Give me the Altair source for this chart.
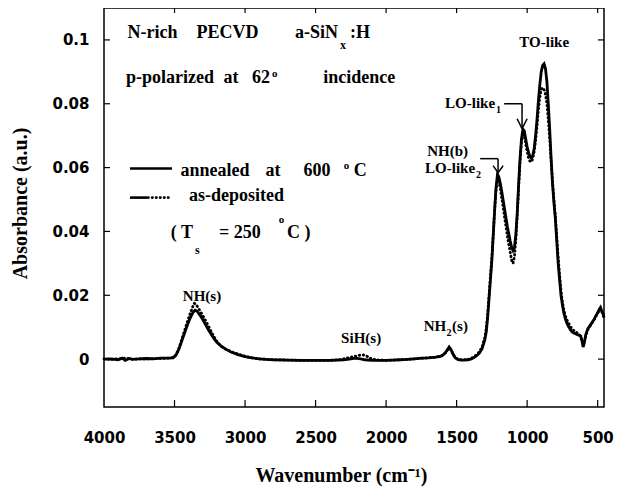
import altair as alt
import pandas as pd

# ---------------- data ----------------
ann_wn = [4000, 3950, 3900, 3870, 3850, 3820, 3800, 3750, 3700, 3650, 3600, 3550, 3510, 3490, 3470, 3450,
          3430, 3410, 3390, 3370, 3355, 3340, 3320, 3300, 3280, 3260, 3240, 3220, 3200, 3170, 3140, 3100,
          3050, 3000, 2950, 2900, 2850, 2800, 2700, 2600, 2500, 2450, 2400, 2350, 2300, 2250, 2220, 2180,
          2150, 2100, 2050, 2000, 1950, 1900, 1850, 1800, 1750, 1700, 1650, 1620, 1600, 1580, 1565, 1553,
          1540, 1525, 1510, 1490, 1470, 1450, 1420, 1400, 1380, 1360, 1340, 1320, 1300, 1290, 1280, 1270,
          1260, 1250, 1240, 1230, 1220, 1210, 1200, 1190, 1180, 1160, 1140, 1120, 1110, 1100, 1090, 1080,
          1070, 1060, 1050, 1040, 1030, 1020, 1010, 1000, 990, 980, 970, 960, 950, 940, 930, 920, 910, 900,
          890, 880, 870, 860, 850, 840, 830, 820, 810, 800, 790, 780, 770, 760, 750, 740, 730, 720, 710,
          700, 690, 680, 670, 660, 650, 640, 630, 620, 610, 603, 595, 585, 570, 555, 540, 525, 510, 500,
          490, 480, 470, 460, 455]
ann_abs = [0.0000, 0.0001, -0.0002, 0.0003, -0.0004, 0.0002, -0.0001, 0.0001, 0.0002, 0.0001, 0.0003, 0.0003,
           0.0004, 0.0012, 0.0030, 0.0055, 0.0080, 0.0105, 0.0128, 0.0146, 0.0153, 0.0150, 0.0138, 0.0124,
           0.0108, 0.0092, 0.0078, 0.0064, 0.0053, 0.0041, 0.0032, 0.0022, 0.0014, 0.0008, 0.0004, 0.0001,
           -0.0001, -0.0002, -0.0003, -0.0004, -0.0004, -0.0004, -0.0004, -0.0003, -0.0002, 0.0001, 0.0003,
           0.0001, -0.0002, -0.0004, -0.0004, -0.0004, -0.0003, -0.0002, -0.0001, 0.0001, 0.0003, 0.0004,
           0.0006, 0.0008, 0.0012, 0.0020, 0.0030, 0.0038, 0.0030, 0.0015, 0.0004, -0.0002, -0.0003, -0.0003,
           -0.0002, 0.0000, 0.0004, 0.0010, 0.0018, 0.0032, 0.0060, 0.0085, 0.0130, 0.0190, 0.0250, 0.0310,
           0.0390, 0.0470, 0.0540, 0.0580, 0.0570, 0.0550, 0.0525, 0.0470, 0.0415, 0.0370, 0.0350, 0.0340,
           0.0350, 0.0390, 0.0460, 0.0550, 0.0630, 0.0690, 0.0720, 0.0715, 0.0690, 0.0665, 0.0648, 0.0635,
           0.0630, 0.0638, 0.0660, 0.0700, 0.0750, 0.0810, 0.0860, 0.0900, 0.0920, 0.0925, 0.0910, 0.0870,
           0.0800, 0.0720, 0.0630, 0.0550, 0.0490, 0.0440, 0.0370, 0.0300, 0.0250, 0.0200, 0.0170, 0.0145,
           0.0128, 0.0115, 0.0105, 0.0097, 0.0090, 0.0085, 0.0082, 0.0080, 0.0078, 0.0076, 0.0075, 0.0072,
           0.0055, 0.0038, 0.0050, 0.0075, 0.0095, 0.0105, 0.0115, 0.0125, 0.0138, 0.0145, 0.0155, 0.0162,
           0.0150, 0.0140, 0.0130]

dep_wn = [4000, 3950, 3900, 3850, 3800, 3700, 3600, 3550, 3510, 3490, 3470, 3450, 3430, 3410, 3390, 3370,
          3360, 3345, 3320, 3300, 3280, 3260, 3240, 3220, 3200, 3170, 3140, 3100, 3050, 3000, 2950, 2900,
          2800, 2700, 2600, 2500, 2400, 2330, 2280, 2230, 2190, 2160, 2130, 2100, 2050, 2000, 1900, 1800,
          1700, 1650, 1600, 1575, 1553, 1535, 1515, 1490, 1450, 1420, 1400, 1380, 1360, 1340, 1320, 1300,
          1290, 1280, 1270, 1260, 1250, 1240, 1230, 1220, 1210, 1200, 1190, 1180, 1160, 1140, 1120, 1110,
          1100, 1090, 1080, 1070, 1060, 1050, 1040, 1030, 1020, 1010, 1000, 990, 980, 970, 960, 950, 940,
          930, 920, 910, 900, 890, 880, 870, 860, 850, 840, 830, 820, 810, 800, 790, 780, 770, 760, 750,
          740, 730, 720, 710, 700, 690, 680, 670, 660, 650, 640, 630, 620, 610, 603, 595, 585, 570, 555,
          540, 525, 510, 500, 490, 480, 470, 460, 455]
dep_abs = [0.0001, -0.0001, 0.0001, 0.0003, 0.0000, 0.0001, 0.0002, 0.0003, 0.0005, 0.0014, 0.0033, 0.0060,
           0.0088, 0.0115, 0.0142, 0.0165, 0.0175, 0.0170, 0.0152, 0.0137, 0.0121, 0.0104, 0.0086, 0.0070,
           0.0056, 0.0040, 0.0032, 0.0024, 0.0016, 0.0009, 0.0004, 0.0001, -0.0002, -0.0003, -0.0004,
           -0.0004, -0.0004, -0.0002, 0.0003, 0.0008, 0.0012, 0.0013, 0.0008, 0.0000, -0.0003, -0.0004,
           -0.0002, 0.0001, 0.0004, 0.0006, 0.0011, 0.0022, 0.0035, 0.0025, 0.0008, -0.0001, -0.0002,
           -0.0001, 0.0002, 0.0006, 0.0013, 0.0022, 0.0038, 0.0068, 0.0095, 0.0140, 0.0200, 0.0260, 0.0320,
           0.0395, 0.0470, 0.0535, 0.0560, 0.0555, 0.0535, 0.0505, 0.0445, 0.0385, 0.0335, 0.0310, 0.0300,
           0.0320, 0.0375, 0.0450, 0.0540, 0.0620, 0.0680, 0.0710, 0.0700, 0.0675, 0.0650, 0.0630, 0.0620,
           0.0618, 0.0628, 0.0650, 0.0685, 0.0730, 0.0780, 0.0820, 0.0845, 0.0850, 0.0845, 0.0830, 0.0800,
           0.0750, 0.0690, 0.0620, 0.0555, 0.0500, 0.0450, 0.0385, 0.0320, 0.0265, 0.0215, 0.0180, 0.0155,
           0.0138, 0.0125, 0.0116, 0.0108, 0.0100, 0.0094, 0.0090, 0.0087, 0.0084, 0.0080, 0.0076, 0.0070,
           0.0055, 0.0042, 0.0052, 0.0072, 0.0092, 0.0103, 0.0113, 0.0123, 0.0136, 0.0143, 0.0152, 0.0158,
           0.0148, 0.0138, 0.0128]

x_tick_values = [4000, 3500, 3000, 2500, 2000, 1500, 1000, 500]
y_tick_values = [0, 0.02, 0.04, 0.06, 0.08, 0.1]

# annotation texts (serif, bold): text, anchor wavenumber, anchor absorbance, font size, alignment
txt_text = ["N-rich", "PECVD", "a-SiN", "x", ":H",
            "p-polarized", "at", "62", "o", "incidence",
            "annealed", "at", "600", "o", "C",
            "as-deposited",
            "( T", "s", "= 250", "o", "C )",
            "TO-like", "LO-like", "1", "NH(b)", "LO-like", "2",
            "NH(s)", "SiH(s)", "NH", "2", "(s)"]
txt_wn = [3656, 3124, 2340, 2326, 2255,
          3532, 3099, 2823, 2809, 2191,
          3213, 2801, 2489, 2280, 2184,
          3060,
          3369, 3355, 3036, 2741, 2620,
          879, 1227, 1220, 1564, 1369, 1362,
          3305, 2177, 1574, 1571, 1532]
txt_abs = [0.1006, 0.1006, 0.1006, 0.0972, 0.1006,
           0.0866, 0.0866, 0.0866, 0.0884, 0.0866,
           0.0575, 0.0575, 0.0575, 0.0597, 0.0575,
           0.0494,
           0.0381, 0.0328, 0.0381, 0.0425, 0.0381,
           0.0978, 0.0788, 0.0772, 0.0635, 0.0582, 0.0567,
           0.0181, 0.0050, 0.00875, 0.0072, 0.00875]
txt_size = [18, 18, 18, 12, 18,
            18, 18, 18, 11, 18,
            18, 18, 18, 11, 18,
            18,
            18, 12, 18, 11, 18,
            15, 15, 10, 15, 15, 10,
            15, 15, 15, 10, 15]
txt_align = ["center", "center", "right", "left", "left",
             "center", "center", "right", "left", "center",
             "center", "center", "center", "center", "center",
             "center",
             "right", "left", "center", "center", "center",
             "center", "right", "left", "center", "right", "left",
             "center", "center", "right", "left", "left"]

# arrows next to the peak labels (segments)
arr_wn = [1163, 1036, 1071, 1000, 1333, 1206, 1241, 1170]
arr_wn2 = [1036, 1036, 1036, 1036, 1206, 1206, 1206, 1206]
arr_a = [0.0800, 0.0800, 0.0753, 0.0753, 0.0628, 0.0628, 0.0606, 0.0606]
arr_a2 = [0.0800, 0.0722, 0.0722, 0.0722, 0.0628, 0.0584, 0.0584, 0.0584]

# legend samples
leg_solid = {"wn": [3816], "wn2": [3518], "a": [0.0597]}
leg_dash = {"wn": [3816], "wn2": [3695], "a": [0.0506]}
leg_dots = {"wn": [3688], "wn2": [3518], "a": [0.0506]}

# ---------------- chart ----------------
xscale = alt.Scale(domain=[4000, 455], nice=False, zero=False)
yscale = alt.Scale(domain=[-0.015, 0.11], nice=False, zero=False)

X = alt.X("wn:Q", scale=xscale, title="Wavenumber  (cm\u207b\u00b9)",
          axis=alt.Axis(values=x_tick_values, format="d", labelFont="DejaVu Sans", labelFontWeight="bold",
                        labelFontSize=15, labelPadding=23, labelFlush=False, labelOverlap=False,
                        labelColor="black", titleFont="Liberation Serif", titleFontSize=20,
                        titleFontWeight="bold", titleColor="black", titleX=237, titleY=74,
                        titleAlign="center", titleBaseline="alphabetic"))
Y = alt.Y("a:Q", scale=yscale, title="Absorbance  (a.u.)",
          axis=alt.Axis(values=y_tick_values, format=".2~f", labelFont="DejaVu Sans", labelFontWeight="bold",
                        labelFontSize=15, labelPadding=15, labelFlush=False, labelOverlap=False,
                        labelColor="black", titleFont="Liberation Serif", titleFontSize=20,
                        titleFontWeight="bold", titleColor="black", titleX=-84, titleY=195,
                        titleAngle=270, titleAlign="center", titleBaseline="middle"))

ann_df = pd.DataFrame({"wn": ann_wn, "a": ann_abs})
dep_df = pd.DataFrame({"wn": dep_wn, "a": dep_abs})

solid = alt.Chart(ann_df).mark_line(color="black", strokeWidth=2.8).encode(x=X, y=Y)
dotted = alt.Chart(dep_df).mark_line(color="black", strokeWidth=2.8, strokeDash=[0.5, 3.5],
                                     strokeCap="round").encode(x=X, y=Y)

xt = pd.DataFrame({"wn": x_tick_values[1:]})
yt = pd.DataFrame({"a": y_tick_values})
tick_b = alt.Chart(xt).mark_rule(color="black", strokeWidth=1.2).encode(x=X, y=alt.value(399), y2=alt.value(392))
tick_t = alt.Chart(xt).mark_rule(color="black", strokeWidth=1.2).encode(x=X, y=alt.value(0), y2=alt.value(5))
tick_l = alt.Chart(yt).mark_rule(color="black", strokeWidth=1.2).encode(y=Y, x=alt.value(0), x2=alt.value(6))
tick_r = alt.Chart(yt).mark_rule(color="black", strokeWidth=1.2).encode(y=Y, x=alt.value(500), x2=alt.value(494))

txt_df = pd.DataFrame({"wn": txt_wn, "a": txt_abs, "text": txt_text, "size": txt_size, "align": txt_align})
text_layers = []
for al in ["left", "center", "right"]:
    text_layers.append(
        alt.Chart(txt_df).transform_filter(alt.datum.align == al).mark_text(
            font="Liberation Serif", fontWeight="bold", align=al, baseline="alphabetic", color="black"
        ).encode(x=X, y=Y, text="text:N", size=alt.Size("size:Q", scale=None))
    )

arr_df = pd.DataFrame({"wn": arr_wn, "wn2": arr_wn2, "a": arr_a, "a2": arr_a2})
arrows = alt.Chart(arr_df).mark_rule(color="black", strokeWidth=1.5).encode(
    x=X, x2="wn2:Q", y=Y, y2="a2:Q")

leg1 = alt.Chart(pd.DataFrame(leg_solid)).mark_rule(color="black", strokeWidth=2.6).encode(
    x=X, x2="wn2:Q", y=Y)
leg2 = alt.Chart(pd.DataFrame(leg_dash)).mark_rule(color="black", strokeWidth=2.6).encode(
    x=X, x2="wn2:Q", y=Y)
leg3 = alt.Chart(pd.DataFrame(leg_dots)).mark_rule(color="black", strokeWidth=2.6, strokeDash=[0.5, 3.5],
                                                   strokeCap="round").encode(x=X, x2="wn2:Q", y=Y)

chart = alt.layer(solid, dotted, tick_b, tick_t, tick_l, tick_r, *text_layers, arrows, leg1, leg2, leg3).properties(
    width=500, height=399,
    autosize=alt.AutoSizeParams(type="none"),
    padding={"left": 96, "top": 0, "right": 11, "bottom": 80},
    background="white",
).configure_view(stroke="black", strokeWidth=1.5).configure_axis(grid=False, domain=False, ticks=False)

chart.save("out.html", embed_options={"renderer": "svg", "actions": False})
